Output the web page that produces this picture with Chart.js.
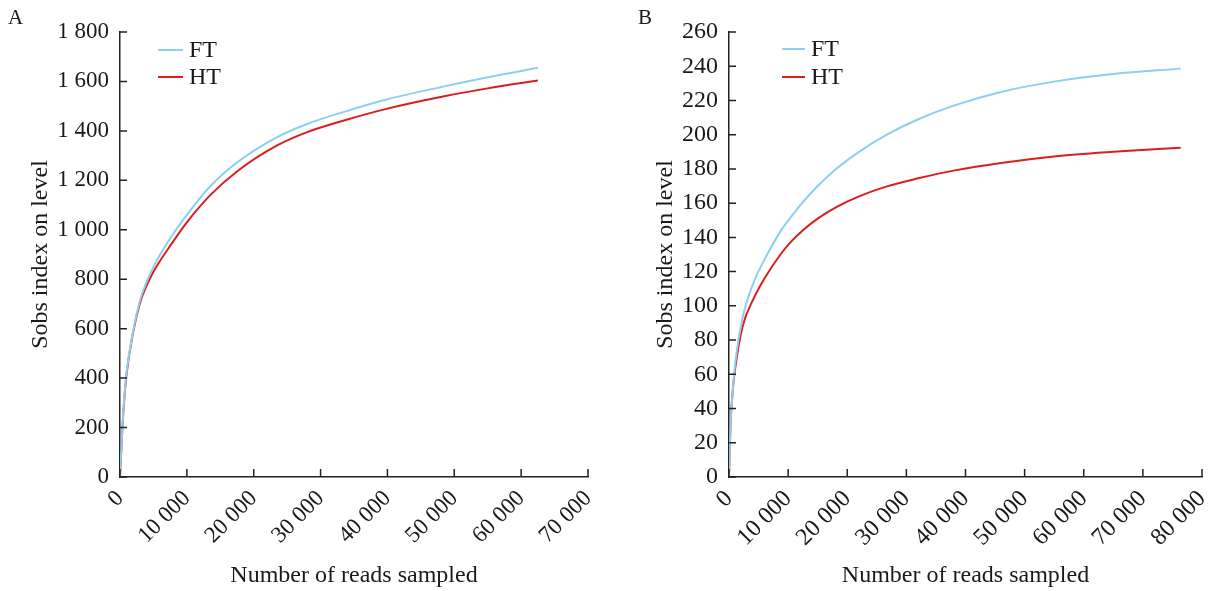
<!DOCTYPE html>
<html>
<head>
<meta charset="utf-8">
<script src="https://cdn.jsdelivr.net/npm/chart.js@4.4.0/dist/chart.umd.min.js"></script>
<style>
  html, body { margin: 0; padding: 0; background: #fff; }
  #wrap { position: relative; width: 1232px; height: 591px; }
  canvas { position: absolute; top: 0; }
  #chart-a { left: 0; }
  #chart-b { left: 616px; }
</style>
</head>
<body>
<div id="wrap">
  <canvas id="chart-a" width="616" height="591"></canvas>
  <canvas id="chart-b" width="616" height="591"></canvas>
</div>
<script>
// Panel A – reads sampled vs observed species
const readsA = [0, 500, 1000, 2000, 3000, 4000, 5000, 6000, 7500, 10000, 13500, 17500, 23500, 28000, 33500, 40000, 48500, 55000, 62500]
const ftA = [0, 265, 425, 595, 715, 790, 850, 900, 965, 1060, 1176, 1272, 1375, 1428, 1477, 1528, 1580, 1617, 1655]
const htA = [0, 263, 420, 590, 705, 775, 830, 875, 935, 1030, 1140, 1236, 1341, 1395, 1442, 1490, 1540, 1572, 1604]

// Panel B
const readsB = [0, 250, 700, 1100, 2300, 4200, 6000, 8700, 10500, 12600, 15000, 18300, 22000, 26700, 32000, 38000, 46000, 55000, 65000, 76400]
const ftB = [0, 30, 53, 68, 93, 114, 127, 143.5, 152, 161, 170, 180.5, 190, 200, 209, 217, 225, 231, 235.5, 238.6]
const htB = [0, 30, 53, 65, 88, 104.5, 116, 130, 137.5, 144.5, 151, 158, 164, 169.8, 174.5, 179, 183.5, 187.3, 190, 192.4]

const seriesNames = ['FT', 'HT']
const seriesColors = ['#8dcfec', '#dc1c1d']
const axisColor = '#222'
const textColor = '#1a1a1a'
const serif = '"Liberation Serif", "Times New Roman", serif'

function withSpaces(v) {
  return String(v).replace(/\B(?=(\d{3})+(?!\d))/g, ' ')
}

// ticks pointing into the plot, like the original figure
const innerTicks = {
  id: 'innerTicks',
  afterDraw(chart) {
    const { ctx, chartArea, scales } = chart
    ctx.save()
    ctx.strokeStyle = axisColor
    ctx.lineWidth = 1.5
    ctx.beginPath()
    scales.x.ticks.forEach(t => {
      const px = scales.x.getPixelForValue(t.value)
      ctx.moveTo(px, chartArea.bottom)
      ctx.lineTo(px, chartArea.bottom - 8)
    })
    scales.y.ticks.forEach(t => {
      const py = scales.y.getPixelForValue(t.value)
      ctx.moveTo(chartArea.left, py)
      ctx.lineTo(chartArea.left + 7, py)
    })
    ctx.stroke()
    ctx.restore()
  }
}

// small line legend inside the plot + panel letter
const panelLegend = {
  id: 'panelLegend',
  afterDraw(chart, args, opts) {
    const { ctx, chartArea } = chart
    ctx.save()
    ctx.font = `${opts.fontSize}px ${serif}`
    ctx.textBaseline = 'middle'
    chart.data.datasets.forEach((ds, i) => {
      const x = chartArea.left + opts.left
      const y = chartArea.top + opts.top + i * opts.rowGap
      ctx.strokeStyle = ds.borderColor
      ctx.lineWidth = ds.borderWidth
      ctx.beginPath()
      ctx.moveTo(x, y)
      ctx.lineTo(x + opts.lineLength, y)
      ctx.stroke()
      ctx.fillStyle = textColor
      ctx.fillText(ds.label, x + opts.lineLength + opts.gap, y + 1)
    })
    ctx.font = `21px ${serif}`
    ctx.textBaseline = 'top'
    ctx.fillText(opts.letter, opts.letterX, opts.letterY)
    ctx.restore()
  }
}

function makePanel(canvasId, p) {
  const datasets = [p.ft, p.ht].map((vals, i) => ({
    label: seriesNames[i],
    data: p.reads.map((x, j) => ({ x: x, y: vals[j] })),
    borderColor: seriesColors[i],
    borderWidth: 2,
    pointRadius: 0,
    cubicInterpolationMode: 'monotone',
    fill: false
  }))

  return new Chart(document.getElementById(canvasId), {
    type: 'line',
    data: { datasets: datasets },
    options: {
      responsive: false,
      animation: false,
      devicePixelRatio: 1,
      layout: { padding: { left: 0, top: 32, right: p.padRight, bottom: 0 } },
      plugins: {
        legend: { display: false },
        tooltip: { enabled: false },
        panelLegend: p.legend
      },
      scales: {
        x: {
          type: 'linear',
          min: 0,
          max: p.xMax,
          afterFit: (scale) => { scale.height = 114 },
          grid: { display: false, drawTicks: false },
          border: { display: true, color: axisColor, width: 1.5 },
          ticks: {
            stepSize: 10000,
            autoSkip: false,
            minRotation: 45,
            maxRotation: 45,
            padding: 8,
            color: textColor,
            font: { family: serif, size: p.tickSize },
            callback: (v) => withSpaces(v)
          },
          title: {
            display: true,
            text: 'Number of reads sampled',
            color: textColor,
            font: { family: serif, size: 24 },
            padding: { top: 0, bottom: 1 }
          }
        },
        y: {
          min: 0,
          max: p.yMax,
          afterFit: (scale) => { scale.width = p.yWidth },
          grid: { display: false, drawTicks: false },
          border: { display: true, color: axisColor, width: 1.5 },
          ticks: {
            stepSize: p.yStep,
            autoSkip: false,
            padding: 11,
            color: textColor,
            font: { family: serif, size: p.tickSize },
            callback: (v) => withSpaces(v)
          },
          title: {
            display: true,
            text: 'Sobs index on level',
            color: textColor,
            font: { family: serif, size: 24 },
            padding: { top: p.yTitlePad, bottom: 0 }
          }
        }
      }
    },
    plugins: [innerTicks, panelLegend]
  })
}

makePanel('chart-a', {
  reads: readsA, ft: ftA, ht: htA,
  xMax: 70000, yMax: 1800, yStep: 200,
  yWidth: 120, padRight: 28, tickSize: 23, yTitlePad: 26,
  legend: { left: 38, top: 18, rowGap: 27, lineLength: 25, gap: 6, fontSize: 24, letter: 'A', letterX: 8, letterY: 8 }
})

makePanel('chart-b', {
  reads: readsB, ft: ftB, ht: htB,
  xMax: 80000, yMax: 260, yStep: 20,
  yWidth: 113, padRight: 30, tickSize: 24, yTitlePad: 35,
  legend: { left: 53, top: 17, rowGap: 28, lineLength: 23, gap: 6, fontSize: 24, letter: 'B', letterX: 22, letterY: 8 }
})
</script>
</body>
</html>
